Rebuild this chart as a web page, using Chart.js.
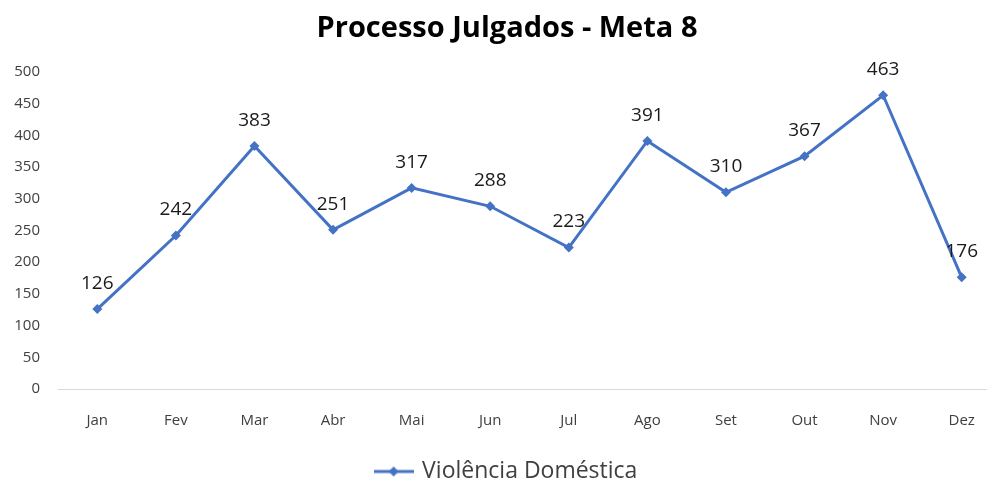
<!DOCTYPE html>
<html>
<head>
<meta charset="utf-8">
<script src="https://cdn.jsdelivr.net/npm/chart.js@4/dist/chart.umd.min.js"></script>
<style>
    html, body { margin: 0; padding: 0; background: #fff; overflow: hidden; }
    #wrap { width: 1006px; height: 482px; }
</style>
</head>
<body>
<div id="wrap"><canvas id="chart" width="1006" height="482"></canvas></div>
<script>
// Dados do gráfico
const meses = ['Jan', 'Fev', 'Mar', 'Abr', 'Mai', 'Jun', 'Jul', 'Ago', 'Set', 'Out', 'Nov', 'Dez'];
const violenciaDomestica = [126, 242, 383, 251, 317, 288, 223, 391, 310, 367, 463, 176];
const yTicks = [0, 50, 100, 150, 200, 250, 300, 350, 400, 450, 500];

const FONT = '"Open Sans", "Noto Sans", sans-serif';
const LINE_COLOR = '#4472C4';

/**
 * Marcador da legenda: linha com losango no meio
 */
function legendMarker() {
    const c = document.createElement('canvas');
    c.width = 40;
    c.height = 12;
    const g = c.getContext('2d');
    g.strokeStyle = LINE_COLOR;
    g.lineWidth = 3;
    g.beginPath();
    g.moveTo(0, 6);
    g.lineTo(40, 6);
    g.stroke();
    g.fillStyle = LINE_COLOR;
    g.beginPath();
    g.moveTo(20, 1);
    g.lineTo(25, 6);
    g.lineTo(20, 11);
    g.lineTo(15, 6);
    g.closePath();
    g.fill();
    return c;
}

/**
 * Rótulos de dados acima de cada ponto
 */
const rotulosPlugin = {
    id: 'rotulos',
    afterDatasetsDraw(chart) {
        const ctx = chart.ctx;
        const meta = chart.getDatasetMeta(0);
        const values = chart.data.datasets[0].data;
        ctx.save();
        ctx.font = '19px ' + FONT;
        ctx.fillStyle = '#1a1a1a';
        ctx.textAlign = 'center';
        ctx.textBaseline = 'bottom';
        meta.data.forEach(function(pt, i) {
            ctx.fillText(String(values[i]), pt.x, pt.y - 16);
        });
        ctx.restore();
    }
};

const marker = legendMarker();

const ctx = document.getElementById('chart').getContext('2d');
new Chart(ctx, {
    type: 'line',
    data: {
        labels: meses,
        datasets: [{
            label: 'Violência Doméstica',
            data: violenciaDomestica,
            borderColor: LINE_COLOR,
            backgroundColor: LINE_COLOR,
            borderWidth: 3,
            pointStyle: 'rectRot',
            pointRadius: 5,
            pointBorderWidth: 0,
            tension: 0
        }]
    },
    options: {
        responsive: false,
        animation: false,
        layout: { padding: { left: 8, right: 0, top: 7, bottom: -11 } },
        plugins: {
            title: {
                display: true,
                text: 'Processo Julgados - Meta 8',
                color: '#000',
                font: { family: FONT, size: 29, weight: 'bold' },
                padding: { top: 4, bottom: 26 }
            },
            legend: {
                position: 'bottom',
                labels: {
                    color: '#404040',
                    font: { family: FONT, size: 23 },
                    usePointStyle: true,
                    pointStyleWidth: 34,
                    padding: 0,
                    generateLabels: function(chart) {
                        const items = Chart.defaults.plugins.legend.labels.generateLabels(chart);
                        items.forEach(function(it) { it.pointStyle = marker; });
                        return items;
                    }
                }
            },
            tooltip: { enabled: false }
        },
        scales: {
            x: {
                offset: true,
                grid: { display: false, drawTicks: false },
                border: { display: true, color: '#d9d9d9', width: 1 },
                ticks: {
                    color: '#404040',
                    font: { family: FONT, size: 15 },
                    padding: 23,
                    maxRotation: 0
                },
                afterFit: function(scale) { scale.height = scale.height + 7; }
            },
            y: {
                min: 0,
                max: 500,
                afterBuildTicks: function(scale) {
                    scale.ticks = yTicks.map(function(v) { return { value: v }; });
                },
                afterFit: function(scale) { scale.width = 50; },
                grid: { display: false, drawTicks: false },
                border: { display: false },
                ticks: {
                    color: '#404040',
                    font: { family: FONT, size: 15 },
                    padding: 18
                }
            }
        }
    },
    plugins: [rotulosPlugin]
});
</script>
</body>
</html>
